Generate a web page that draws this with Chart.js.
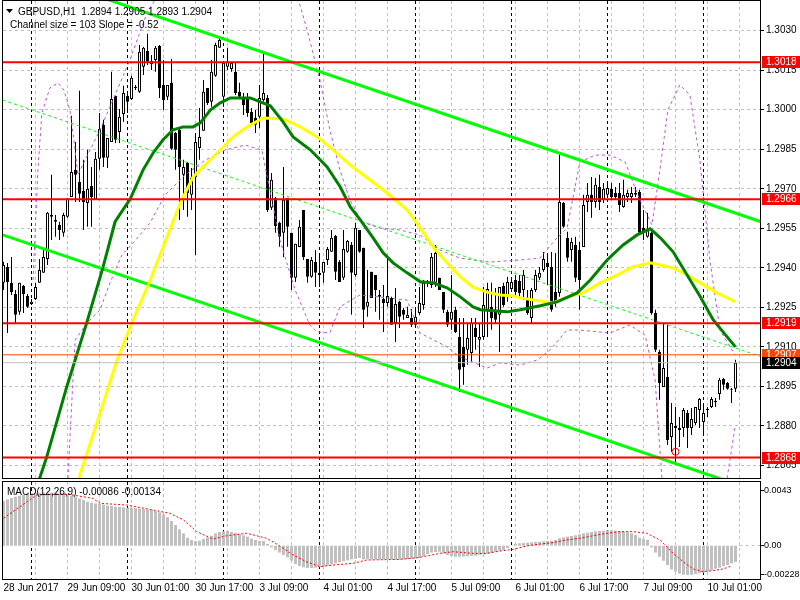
<!DOCTYPE html>
<html>
<head>
<meta charset="utf-8">
<title>GBPUSD H1</title>
<script src="https://cdn.jsdelivr.net/npm/chart.js@4.4.1/dist/chart.umd.min.js"></script>
<style>
  body { margin: 0; background: #fff; }
  #box { position: relative; width: 800px; height: 600px; overflow: hidden; }
  canvas { position: absolute; left: 0; }
  #priceChart { top: 0; }
  #macdChart { top: 480px; }
</style>
</head>
<body>
<div id="box">
  <canvas id="priceChart" width="800" height="480"></canvas>
  <canvas id="macdChart" width="800" height="120"></canvas>
</div>
<script>
// candles, one per hour, from 28 Jun 17:00 to 10 Jul 08:00
const opens = [
  1.29343,1.29403,1.29343,1.29301,1.29233,1.29331,1.29293,1.29263,1.29282,1.29343,
  1.29381,1.29434,1.29601,1.29582,1.29563,1.29533,1.29594,1.29669,1.29772,1.29726,
  1.29692,1.29646,1.29711,1.29658,1.29814,1.29943,1.29818,1.29878,1.30053,1.29916,
  1.29984,1.30053,1.30041,1.30083,1.30068,1.30163,1.30223,1.30174,1.30189,1.30242,
  1.30094,1.30049,1.30102,1.29912,1.29924,1.29753,1.29798,1.29677,1.29745,1.29855,
  1.29920,1.30083,1.30030,1.30129,1.30235,1.30049,1.30163,1.30155,1.30144,1.30068,
  1.30049,1.30045,1.29992,1.29969,1.29973,1.30037,1.30045,1.29628,1.29665,1.29571,
  1.29533,1.29665,1.29533,1.29362,1.29479,1.29620,1.29434,1.29366,1.29422,1.29381,
  1.29381,1.29430,1.29461,1.29521,1.29422,1.29362,1.29461,1.29487,1.29373,1.29544,
  1.29476,1.29252,1.29385,1.29373,1.29297,1.29282,1.29267,1.29286,1.29191,1.29271,
  1.29241,1.29210,1.29210,1.29184,1.29229,1.29259,1.29343,1.29335,1.29343,1.29362,
  1.29308,1.29233,1.29203,1.29241,1.29138,1.29100,1.29089,1.29077,1.29172,1.29127,
  1.29138,1.29241,1.29252,1.29241,1.29222,1.29331,1.29290,1.29320,1.29354,1.29350,
  1.29316,1.29286,1.29210,1.29316,1.29362,1.29392,1.29418,1.29403,1.29308,1.29305,
  1.29646,1.29514,1.29468,1.29487,1.29468,1.29479,1.29650,1.29677,1.29650,1.29707,
  1.29658,1.29677,1.29700,1.29684,1.29684,1.29631,1.29669,1.29669,1.29677,1.29688,
  1.29552,1.29518,1.29533,1.29229,1.29081,1.28948,1.28986,1.28758,1.28800,1.28785,
  1.28792,1.28849,1.28792,1.28811,1.28861,1.28815,1.28861,1.28872,1.28891,1.28921,
  1.28978,1.28963,1.28941,1.28941
];
const highs = [
  1.29423,1.29418,1.29441,1.29316,1.29343,1.29335,1.29301,1.29282,1.29343,1.29434,
  1.29476,1.29612,1.29753,1.29601,1.29575,1.29609,1.29665,1.29977,1.29878,1.30072,
  1.29810,1.29848,1.29783,1.29840,1.29988,1.29962,1.29893,1.30144,1.30053,1.30003,
  1.30091,1.30068,1.30129,1.30094,1.30246,1.30239,1.30288,1.30208,1.30242,1.30246,
  1.30189,1.30094,1.30193,1.29916,1.29931,1.29810,1.29802,1.29779,1.29912,1.30007,
  1.30113,1.30083,1.30189,1.30254,1.30280,1.30178,1.30235,1.30178,1.30178,1.30102,
  1.30064,1.30064,1.30007,1.29999,1.30094,1.30220,1.30056,1.29760,1.29669,1.29575,
  1.29783,1.29665,1.29533,1.29491,1.29582,1.29620,1.29434,1.29441,1.29468,1.29456,
  1.29422,1.29479,1.29544,1.29525,1.29430,1.29544,1.29506,1.29498,1.29571,1.29544,
  1.29476,1.29392,1.29385,1.29373,1.29316,1.29335,1.29441,1.29290,1.29324,1.29275,
  1.29248,1.29252,1.29244,1.29241,1.29327,1.29354,1.29354,1.29456,1.29487,1.29362,
  1.29308,1.29241,1.29373,1.29252,1.29210,1.29210,1.29191,1.29210,1.29210,1.29191,
  1.29327,1.29343,1.29343,1.29324,1.29327,1.29343,1.29366,1.29362,1.29373,1.29373,
  1.29392,1.29316,1.29324,1.29392,1.29403,1.29460,1.29456,1.29460,1.29456,1.29829,
  1.29650,1.29537,1.29514,1.29518,1.29498,1.29677,1.29722,1.29745,1.29741,1.29753,
  1.29722,1.29722,1.29722,1.29707,1.29722,1.29734,1.29696,1.29707,1.29707,1.29696,
  1.29620,1.29609,1.29537,1.29241,1.29089,1.29191,1.29184,1.28887,1.28872,1.28834,
  1.28868,1.28861,1.28868,1.28872,1.28906,1.28887,1.28872,1.28910,1.28906,1.28982,
  1.28982,1.28967,1.28944,1.29051
];
const lows = [
  1.29316,1.29153,1.29297,1.29191,1.29222,1.29229,1.29248,1.29259,1.29278,1.29343,
  1.29381,1.29411,1.29506,1.29518,1.29506,1.29518,1.29590,1.29669,1.29650,1.29650,
  1.29544,1.29556,1.29556,1.29658,1.29772,1.29783,1.29779,1.29878,1.29874,1.29874,
  1.29954,1.29988,1.30037,1.30075,1.30064,1.30132,1.30170,1.30151,1.30144,1.30045,
  1.29999,1.30037,1.29848,1.29772,1.29582,1.29620,1.29594,1.29620,1.29449,1.29810,
  1.29920,1.30018,1.30011,1.30125,1.30235,1.30011,1.30151,1.30144,1.30056,1.30045,
  1.29980,1.29973,1.29943,1.29912,1.29931,1.30030,1.29612,1.29620,1.29533,1.29480,
  1.29441,1.29480,1.29316,1.29346,1.29479,1.29430,1.29343,1.29362,1.29327,1.29327,
  1.29343,1.29411,1.29461,1.29354,1.29346,1.29354,1.29457,1.29222,1.29366,1.29457,
  1.29172,1.29214,1.29286,1.29233,1.29203,1.29157,1.29252,1.29184,1.29119,1.29172,
  1.29203,1.29210,1.29176,1.29176,1.29222,1.29241,1.29327,1.29324,1.29327,1.29316,
  1.29229,1.29176,1.29165,1.29153,1.28929,1.28956,1.29032,1.29040,1.29089,1.29024,
  1.29127,1.29138,1.29165,1.29191,1.29081,1.29252,1.29271,1.29308,1.29297,1.29290,
  1.29278,1.29222,1.29191,1.29308,1.29354,1.29385,1.29335,1.29233,1.29252,1.29290,
  1.29552,1.29423,1.29423,1.29346,1.29241,1.29479,1.29612,1.29590,1.29628,1.29620,
  1.29646,1.29665,1.29658,1.29658,1.29612,1.29628,1.29650,1.29646,1.29669,1.29525,
  1.29506,1.29514,1.29222,1.29081,1.28899,1.28948,1.28728,1.28701,1.28652,1.28720,
  1.28758,1.28716,1.28766,1.28804,1.28792,1.28766,1.28834,1.28868,1.28872,1.28899,
  1.28937,1.28937,1.28887,1.28929
];
const closes = [
  1.29411,1.29346,1.29308,1.29222,1.29343,1.29301,1.29252,1.29271,1.29327,1.29392,
  1.29441,1.29609,1.29594,1.29575,1.29544,1.29601,1.29662,1.29764,1.29753,1.29681,
  1.29650,1.29700,1.29669,1.29814,1.29928,1.29818,1.29893,1.30041,1.29886,1.29973,
  1.30064,1.30030,1.30121,1.30087,1.30220,1.30235,1.30182,1.30186,1.30235,1.30083,
  1.30037,1.30094,1.29852,1.29848,1.29783,1.29783,1.29684,1.29741,1.29878,1.29897,
  1.30068,1.30026,1.30144,1.30246,1.30265,1.30178,1.30182,1.30178,1.30064,1.30049,
  1.30018,1.29988,1.29950,1.29943,1.30045,1.30064,1.29620,1.29734,1.29559,1.29518,
  1.29658,1.29556,1.29362,1.29491,1.29556,1.29441,1.29366,1.29430,1.29381,1.29373,
  1.29422,1.29472,1.29514,1.29385,1.29346,1.29472,1.29502,1.29381,1.29552,1.29461,
  1.29241,1.29271,1.29286,1.29316,1.29290,1.29267,1.29293,1.29184,1.29263,1.29214,
  1.29222,1.29222,1.29184,1.29214,1.29267,1.29343,1.29350,1.29441,1.29456,1.29316,
  1.29241,1.29184,1.29233,1.29157,1.29013,1.29024,1.29134,1.29191,1.29138,1.29138,
  1.29259,1.29320,1.29210,1.29203,1.29327,1.29259,1.29346,1.29346,1.29308,1.29305,
  1.29373,1.29229,1.29316,1.29373,1.29381,1.29434,1.29403,1.29241,1.29267,1.29650,
  1.29556,1.29438,1.29498,1.29362,1.29354,1.29639,1.29677,1.29650,1.29715,1.29650,
  1.29700,1.29703,1.29669,1.29669,1.29639,1.29677,1.29684,1.29684,1.29684,1.29533,
  1.29533,1.29548,1.29229,1.29089,1.28963,1.29020,1.28747,1.28811,1.28792,1.28792,
  1.28861,1.28792,1.28826,1.28872,1.28902,1.28849,1.28865,1.28902,1.28895,1.28975,
  1.28956,1.28941,1.28937,1.29040
];

// time axis: a label every 16 bars, period separators at midnight
const timeLabels = ['28 Jun 2017', '29 Jun 09:00', '30 Jun 01:00', '30 Jun 17:00', '3 Jul 09:00', '4 Jul 01:00',
  '4 Jul 17:00', '5 Jul 09:00', '6 Jul 01:00', '6 Jul 17:00', '7 Jul 09:00', '10 Jul 01:00'];
const daySeparators = [7, 31, 55, 79, 103, 127, 151, 175];
const priceTicks = [1.3030, 1.3015, 1.3000, 1.2985, 1.2970, 1.2955, 1.2940, 1.2925, 1.2910, 1.2895, 1.2880, 1.2865];

// horizontal levels
const levels = [1.3018, 1.2966, 1.2919, 1.2868];
const askLevel = 1.2907;
const bidLevel = 1.2904;

// moving averages, read as [bar, price]
const greenMA = [[9,1.28600],[10.8,1.28682],[15.8,1.28948],[20.8,1.29191],[24.9,1.29404],[27.9,1.29575],[31.7,1.29662],
  [34.9,1.29772],[37.4,1.29836],[39.9,1.29886],[42.4,1.29924],[44.9,1.29935],[47.4,1.29935],[49.2,1.29950],[51.7,1.29999],
  [54.2,1.30026],[56.7,1.30045],[59.2,1.30045],[61.7,1.30045],[64.2,1.30030],[66.7,1.30015],[69.9,1.29954],[72.4,1.29897],
  [76.7,1.29848],[80.9,1.29783],[84.2,1.29707],[86.7,1.29631],[89.2,1.29582],[92.4,1.29514],[94.9,1.29457],[97.4,1.29419],
  [100.9,1.29381],[104.2,1.29347],[107.4,1.29343],[110.9,1.29324],[114.2,1.29290],[117.4,1.29252],[119.2,1.29241],
  [122.4,1.29237],[125.9,1.29233],[129.2,1.29241],[134.2,1.29256],[138.4,1.29271],[143.4,1.29305],[146.7,1.29354],
  [150.9,1.29430],[154.9,1.29487],[158.4,1.29525],[161.7,1.29548],[164.2,1.29514],[167.4,1.29461],[170.9,1.29373],
  [174.2,1.29290],[177.4,1.29203],[180.9,1.29138],[183,1.29100]];
const yellowMA = [[18.7,1.28595],[20.9,1.28698],[24.2,1.28850],[28.4,1.29051],[32.4,1.29203],[36.7,1.29354],[39.9,1.29479],
  [44.2,1.29646],[47.4,1.29745],[50.9,1.29798],[54.2,1.29848],[57.4,1.29897],[60.9,1.29935],[64.9,1.29969],[69.9,1.29965],
  [74.2,1.29935],[78.4,1.29897],[82.4,1.29848],[86.7,1.29790],[89.2,1.29762],[95.9,1.29684],[100.9,1.29620],[104.2,1.29552],
  [107.4,1.29479],[110.9,1.29419],[114.2,1.29366],[117.4,1.29327],[120.9,1.29308],[124.2,1.29297],[127.4,1.29293],
  [129.2,1.29286],[134.2,1.29274],[137.4,1.29267],[140.9,1.29290],[144.9,1.29305],[149.2,1.29343],[153.4,1.29373],
  [157.4,1.29404],[161.7,1.29419],[164.2,1.29411],[167.4,1.29400],[170.9,1.29373],[174.2,1.29343],[178.4,1.29305],[183,1.29271]];

// bands (purple dashed), read as [bar, price]
const bandUpper = [[7.4,1.29354],[8.6,1.29771],[9.6,1.29988],[11.6,1.30083],[13.6,1.30102],[15.1,1.30075],[16.6,1.29999],
  [17.6,1.29885],[18.6,1.29752],[20.4,1.29809],[24.1,1.29923],[27.9,1.30056],[31.6,1.30189],[35.4,1.30348],[39.1,1.30454],
  [71.6,1.30454],[74.1,1.30398],[75.9,1.30303],[79.1,1.30113],[81.6,1.29923],[84.1,1.29771],[86.6,1.29658],[89.6,1.29574],
  [94.1,1.29551],[99.1,1.29544],[104.1,1.29525],[109.1,1.29468],[114.1,1.29437],[121.6,1.29422],[129.1,1.29430],
  [134.1,1.29437],[137.9,1.29506],[140.9,1.29551],[144.1,1.29802],[147.9,1.29828],[151.6,1.29828],[155.4,1.29802],
  [159.1,1.29658],[162.1,1.29563],[164.1,1.29771],[166.1,1.29999],[169.1,1.30094],[171.6,1.30056],[174.1,1.29809],
  [176.6,1.29430],[179.1,1.29164],[182.9,1.29069]];
const bandLower = [[16.1,1.28602],[17.1,1.28898],[17.9,1.29126],[20.9,1.29191],[24.1,1.29240],[26.6,1.29342],[29.6,1.29449],
  [32.4,1.29494],[36.6,1.29570],[40.4,1.29677],[45.4,1.29752],[50.4,1.29809],[55.4,1.29847],[60.4,1.29866],[64.6,1.29847],
  [66.6,1.29695],[69.1,1.29506],[72.9,1.29316],[76.6,1.29183],[78.4,1.29157],[81.6,1.29153],[84.1,1.29252],[89.1,1.29297],
  [94.1,1.29289],[100.9,1.29278],[104.1,1.29153],[110.9,1.29100],[114.1,1.29062],[120.9,1.29020],[124.1,1.29039],
  [129.1,1.29031],[133.4,1.29050],[136.6,1.29088],[140.9,1.29164],[144.1,1.29164],[151.6,1.29153],[156.6,1.29183],
  [160.4,1.29145],[162.9,1.28974],[164.6,1.28602],[166.6,1.28405],[174.1,1.28367],[179.1,1.28481],[180.9,1.28602],
  [182.9,1.28796]];

// regression channel ends
const channelUpper = [[24, 1.30429], [189.2, 1.29576]];
const channelMiddle = [[-0.2, 1.30037], [189.2, 1.29064]];
const channelLower = [[-0.2, 1.29525], [189.2, 1.28548]];
const lowMark = [168, 1.28702];

// MACD(12,26,9)
const macdHist = [
  0.00352,0.00362,0.00373,0.00383,0.00391,0.00399,0.00404,0.00410,0.00412,0.00415,
  0.00415,0.00415,0.00415,0.00412,0.00410,0.00407,0.00399,0.00391,0.00383,0.00370,
  0.00357,0.00344,0.00337,0.00331,0.00326,0.00321,0.00313,0.00310,0.00305,0.00303,
  0.00300,0.00297,0.00297,0.00295,0.00290,0.00287,0.00284,0.00279,0.00271,0.00261,
  0.00245,0.00222,0.00193,0.00162,0.00128,0.00097,0.00063,0.00045,0.00037,0.00039,
  0.00052,0.00065,0.00078,0.00097,0.00107,0.00112,0.00115,0.00107,0.00099,0.00092,
  0.00081,0.00071,0.00055,0.00045,0.00037,0.00037,0.00013,-0.00013,-0.00034,-0.00054,
  -0.00073,-0.00091,-0.00117,-0.00143,-0.00159,-0.00169,-0.00174,-0.00174,-0.00172,-0.00167,
  -0.00161,-0.00154,-0.00146,-0.00138,-0.00130,-0.00122,-0.00115,-0.00107,-0.00102,-0.00096,
  -0.00107,-0.00107,-0.00107,-0.00107,-0.00107,-0.00107,-0.00104,-0.00107,-0.00107,-0.00107,
  -0.00107,-0.00107,-0.00104,-0.00102,-0.00096,-0.00081,-0.00065,-0.00054,-0.00049,-0.00047,
  -0.00060,-0.00073,-0.00081,-0.00086,-0.00086,-0.00086,-0.00083,-0.00081,-0.00078,-0.00073,
  -0.00068,-0.00063,-0.00057,-0.00049,-0.00041,-0.00034,-0.00018,-0.00002,0.00013,0.00019,
  0.00021,0.00024,0.00026,0.00029,0.00031,0.00034,0.00037,0.00039,0.00045,0.00058,
  0.00065,0.00071,0.00076,0.00081,0.00089,0.00097,0.00102,0.00107,0.00112,0.00115,
  0.00118,0.00120,0.00120,0.00118,0.00115,0.00110,0.00105,0.00097,0.00084,0.00063,
  0.00052,0.00045,-0.00013,-0.00054,-0.00086,-0.00117,-0.00151,-0.00185,-0.00203,-0.00219,
  -0.00227,-0.00229,-0.00227,-0.00221,-0.00216,-0.00211,-0.00200,-0.00190,-0.00180,-0.00172,
  -0.00161,-0.00151,-0.00138,-0.00128
];
const macdSignal = [[0,0.00214],[8.3,0.00397],[15.8,0.00404],[22.4,0.00370],[24.1,0.00331],[30.8,0.00318],[36.6,0.00284],
  [41.6,0.00253],[45,0.00201],[48.3,0.00110],[52.4,0.00052],[55.8,0.00078],[60.8,0.00097],[65.8,0.00058],[68.3,0.00013],
  [72.4,-0.00073],[75.7,-0.00125],[79.1,-0.00164],[82.4,-0.00151],[87.4,-0.00138],[90.8,-0.00112],[99.1,-0.00107],
  [104.1,-0.00091],[109.1,-0.00060],[112.4,-0.00047],[117.4,-0.00060],[120.8,-0.00060],[124.1,-0.00042],[127.4,-0.00028],
  [130.8,-0.00002],[134.1,0.00013],[137.4,0.00024],[140.8,0.00045],[144.1,0.00058],[147.4,0.00078],[150.8,0.00097],
  [154.1,0.00110],[157.4,0.00110],[160.8,0.00097],[164.1,0.00045],[165.8,-0.00008],[167.4,-0.00060],[169.9,-0.00125],
  [172.4,-0.00182],[174.9,-0.00203],[177.4,-0.00195],[179.9,-0.00182],[182,-0.00159]];
const macdTicks = [0.0043, 0, -0.00228];
const macdTickText = ['0.0043', '0.00', '-0.00228'];

const X_MIN = -0.125, X_MAX = 189.125;
const FONT = "'Liberation Sans', Arial, sans-serif";
const FSIZE = 10;

Chart.defaults.font.family = FONT;
Chart.defaults.font.size = FSIZE;
Chart.defaults.color = '#000';
Chart.defaults.animation = false;
Chart.defaults.events = [];
Chart.defaults.plugins.legend.display = false;
Chart.defaults.plugins.tooltip.enabled = false;

const idx = opens.map((_, i) => i);
const wickData = idx.map(i => ({ x: i, y: [lows[i], highs[i]] }));
const bodyData = idx.map(i => ({ x: i, y: [Math.min(opens[i], closes[i]), Math.max(opens[i], closes[i])] }));
const bodyFill = idx.map(i => closes[i] >= opens[i] ? '#ffffff' : '#000000');
const pts = arr => arr.map(p => ({ x: p[0], y: p[1] }));
const flat = v => [{ x: X_MIN, y: v }, { x: X_MAX, y: v }];
const crisp = (scale, v) => Math.floor(scale.getPixelForValue(v)) + 0.5;

function lineSet(data, color, width, dash, order) {
  return { type: 'line', data, borderColor: color, borderWidth: width, borderDash: dash || [],
    pointRadius: 0, tension: 0, fill: false, order };
}

// grid, period separators and frame, the MT4 way
const mtFrame = {
  id: 'mtFrame',
  beforeDatasetsDraw(chart, args, opts) {
    const { ctx, chartArea: a } = chart;
    const xs = chart.scales.x, ys = chart.scales.y;
    ctx.save();
    ctx.lineWidth = 1;
    ctx.setLineDash([3, 3]);
    ctx.strokeStyle = '#c0c0c0';
    ctx.beginPath();
    for (let v = 8; v <= 184; v += 8) {
      const x = crisp(xs, v);
      ctx.moveTo(x, a.top); ctx.lineTo(x, a.bottom);
    }
    for (const v of opts.hGrid) {
      const y = crisp(ys, v);
      ctx.moveTo(a.left, y); ctx.lineTo(a.right, y);
    }
    ctx.stroke();
    ctx.strokeStyle = '#000';
    ctx.beginPath();
    for (const v of daySeparators) {
      const x = crisp(xs, v);
      ctx.moveTo(x, a.top); ctx.lineTo(x, a.bottom);
    }
    ctx.stroke();
    ctx.restore();
  },
  afterDraw(chart, args, opts) {
    const { ctx, chartArea: a } = chart;
    const ys = chart.scales.y;
    ctx.save();
    ctx.strokeStyle = '#000';
    ctx.lineWidth = 1;
    ctx.strokeRect(a.left - 0.5, a.top - 0.5, a.right - a.left + 1, a.bottom - a.top + 1);
    ctx.beginPath();
    for (const v of opts.yTicks) {
      const y = crisp(ys, v);
      ctx.moveTo(a.right, y); ctx.lineTo(a.right + 4, y);
    }
    ctx.stroke();
    ctx.restore();
  }
};

// price boxes on the right scale and the chart header
const priceLabels = {
  id: 'priceLabels',
  afterDraw(chart) {
    const { ctx, chartArea: a } = chart;
    const ys = chart.scales.y;
    ctx.save();
    ctx.font = FSIZE + 'px ' + FONT;
    ctx.textBaseline = 'middle';
    const boxes = levels.map(v => [v, '#ff0000']).concat([[askLevel, '#ff4500'], [bidLevel, '#000000']]);
    for (const [v, color] of boxes) {
      const y = Math.round(ys.getPixelForValue(v));
      ctx.fillStyle = color;
      ctx.fillRect(a.right + 2, y - 6, 38, 12);
      ctx.fillStyle = '#fff';
      ctx.fillText(v.toFixed(4), a.right + 6, y);
    }
    ctx.fillStyle = '#000';
    ctx.beginPath();
    ctx.moveTo(6, 9); ctx.lineTo(13, 9); ctx.lineTo(9.5, 13); ctx.closePath();
    ctx.fill();
    ctx.textBaseline = 'alphabetic';
    ctx.fillText('GBPUSD,H1  1.2894 1.2905 1.2893 1.2904', 18, 15);
    ctx.fillText('Channel size = 103 Slope = -0.52', 10, 28);
    ctx.restore();
  }
};

const macdHeader = {
  id: 'macdHeader',
  afterDraw(chart) {
    const { ctx, chartArea: a } = chart;
    const ys = chart.scales.y;
    ctx.save();
    ctx.strokeStyle = '#c0c0c0';
    ctx.setLineDash([3, 3]);
    ctx.beginPath();
    const y0 = crisp(ys, 0);
    const xEnd = chart.scales.x.getPixelForValue(184);
    ctx.moveTo(xEnd, y0); ctx.lineTo(a.right, y0);
    ctx.stroke();
    ctx.restore();
    ctx.save();
    ctx.font = FSIZE + 'px ' + FONT;
    ctx.fillStyle = '#000';
    ctx.fillText('MACD(12,26,9) -0.00086 -0.00134', 7, 15);
    ctx.restore();
  }
};

new Chart(document.getElementById('priceChart'), {
  type: 'bar',
  data: {
    datasets: [
      { type: 'bar', data: wickData, backgroundColor: '#000', barThickness: 1, grouped: false,
        inflateAmount: 0, order: 30 },
      { type: 'bar', data: bodyData, backgroundColor: bodyFill, borderColor: '#000', borderWidth: 1,
        borderSkipped: false, barThickness: 3, minBarLength: 1, grouped: false, inflateAmount: 0, order: 29 },
      lineSet(pts(bandUpper), '#ba55d3', 1, [3, 3], 22),
      lineSet(pts(bandLower), '#ba55d3', 1, [3, 3], 21),
      lineSet(pts(channelMiddle), '#00ff00', 1, [3, 3], 20),
      lineSet(pts(channelUpper), '#00ff00', 3, null, 19),
      lineSet(pts(channelLower), '#00ff00', 3, null, 18),
      lineSet(pts(yellowMA), '#ffff00', 3, null, 15),
      lineSet(pts(greenMA), '#008000', 3, null, 14),
      ...levels.map((v, k) => lineSet(flat(v), '#ff0000', 2, null, 10 - k)),
      lineSet(flat(askLevel), '#ff4500', 1, null, 5),
      lineSet(flat(bidLevel), '#c0c0c0', 1, null, 4),
      { type: 'line', data: pts([lowMark]), showLine: false, pointRadius: 3.5, pointBorderWidth: 1,
        pointBorderColor: '#ff0000', pointBackgroundColor: 'rgba(0,0,0,0)', order: 1 }
    ]
  },
  options: {
    responsive: false,
    layout: { autoPadding: false, padding: { left: 3, top: 1, right: 0, bottom: 2 } },
    scales: {
      x: { type: 'linear', min: X_MIN, max: X_MAX, offset: false, display: false },
      y: {
        type: 'linear', position: 'right', min: 1.286025, max: 1.304127,
        afterFit: s => { s.width = 40; s.paddingTop = 0; s.paddingBottom = 0; },
        afterBuildTicks: s => { s.ticks = priceTicks.map(v => ({ value: v })); },
        grid: { display: false, drawTicks: false },
        border: { display: false },
        ticks: { padding: 6, color: '#000', callback: v => v.toFixed(4) }
      }
    },
    plugins: { mtFrame: { hGrid: priceTicks, yTicks: priceTicks } }
  },
  plugins: [mtFrame, priceLabels]
});

new Chart(document.getElementById('macdChart'), {
  type: 'bar',
  data: {
    datasets: [
      lineSet(pts(macdSignal), '#ff0000', 1, [2, 2], 1),
      { type: 'bar', data: idx.map(i => ({ x: i, y: macdHist[i] })), backgroundColor: '#c0c0c0',
        barThickness: 3, grouped: false, inflateAmount: 0, order: 2 }
    ]
  },
  options: {
    responsive: false,
    layout: { autoPadding: false, padding: { left: 3, top: 2, right: 0, bottom: 0 } },
    scales: {
      x: {
        type: 'linear', min: X_MIN, max: X_MAX, offset: false, position: 'bottom',
        afterFit: s => { s.height = 21; s.paddingLeft = 0; s.paddingRight = 0; },
        afterBuildTicks: s => { s.ticks = timeLabels.map((t, k) => ({ value: k * 16 })); },
        grid: { display: false, drawTicks: false },
        border: { display: false },
        ticks: { autoSkip: false, maxRotation: 0, minRotation: 0, align: 'start', padding: 3, color: '#000',
          callback: v => timeLabels[Math.round(v / 16)] }
      },
      y: {
        type: 'linear', position: 'right', min: -0.002604, max: 0.004981,
        afterFit: s => { s.width = 40; s.paddingTop = 0; s.paddingBottom = 0; },
        afterBuildTicks: s => { s.ticks = macdTicks.map(v => ({ value: v })); },
        grid: { display: false, drawTicks: false },
        border: { display: false },
        ticks: { padding: 4, color: '#000', font: { size: 9 }, callback: (v, k) => macdTickText[k] }
      }
    },
    plugins: { mtFrame: { hGrid: [], yTicks: macdTicks } }
  },
  plugins: [mtFrame, macdHeader]
});
</script>
</body>
</html>
